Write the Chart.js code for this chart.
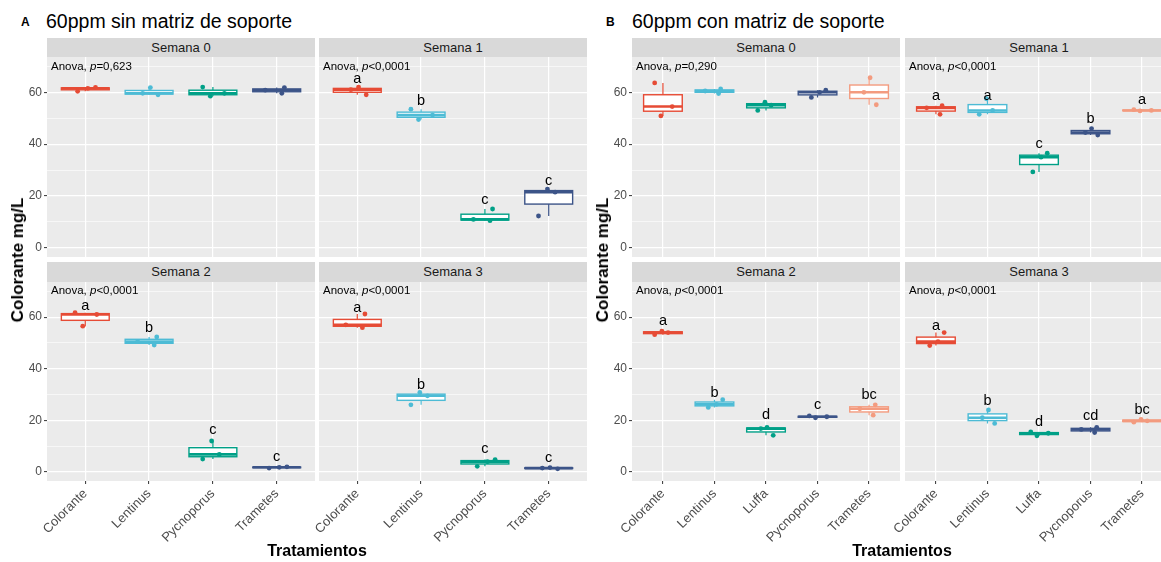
<!DOCTYPE html>
<html>
<head>
<meta charset="utf-8">
<script src="https://cdn.jsdelivr.net/npm/chart.js@4"></script>
<style>
  body { margin: 0; width: 1161px; height: 562px; overflow: hidden; position: relative; background: #fff;
         font-family: "Liberation Sans", Arial, Helvetica, sans-serif; }
  canvas { position: absolute; }
  .strip { position: absolute; background: #D9D9D9; color: #1A1A1A; font-size: 13px; text-align: center; }
  .tag { position: absolute; font-weight: bold; font-size: 12px; transform: translateY(-50%); }
  .title { position: absolute; font-size: 19.5px; color: #000; transform: translateY(-50%); white-space: nowrap; }
  .axtitle { position: absolute; font-weight: bold; font-size: 16px; white-space: nowrap; }
</style>
</head>
<body>
<script>
// Treatments and weeks
const semanas = ['Semana 0', 'Semana 1', 'Semana 2', 'Semana 3'];
const tratamientosA = ['Colorante', 'Lentinus', 'Pycnoporus', 'Trametes'];
const tratamientosB = ['Colorante', 'Lentinus', 'Luffa', 'Pycnoporus', 'Trametes'];

// Colorant concentration (mg/L), three replicates per treatment
const sinMatrizS0 = [[60.4, 61.5, 61.9], [59.0, 59.6, 61.8], [58.5, 59.6, 62.0], [59.6, 60.8, 61.8]];
const sinMatrizS1 = [[59.0, 61.0, 62.0], [49.5, 51.2, 53.5], [10.5, 11.0, 15.0], [12.3, 21.5, 22.7]];
const sinMatrizS2 = [[56.5, 61.0, 61.7], [49.2, 50.5, 52.3], [5.0, 6.8, 12.0], [1.5, 1.8, 2.0]];
const sinMatrizS3 = [[55.9, 57.0, 61.2], [26.0, 29.5, 30.8], [2.2, 4.0, 4.8], [1.2, 1.5, 1.7]];

const conMatrizS0 = [[50.9, 54.5, 63.6], [59.5, 60.5, 61.3], [53.0, 55.0, 56.2], [58.0, 60.0, 60.8], [55.2, 60.0, 65.6]];
const conMatrizS1 = [[51.5, 54.0, 54.8], [51.5, 53.0, 57.5], [29.3, 35.0, 36.5], [43.5, 44.5, 46.0], [52.8, 53.0, 53.3]];
const conMatrizS2 = [[53.2, 54.0, 54.6], [25.0, 26.2, 28.0], [14.2, 16.8, 17.3], [21.0, 21.4, 21.7], [22.0, 24.5, 26.0]];
const conMatrizS3 = [[49.0, 50.5, 54.0], [18.8, 21.0, 24.0], [14.0, 15.0, 15.5], [15.3, 16.5, 17.3], [19.3, 19.8, 20.4]];

// ANOVA p-values per week
const anovaA = ['=0,623', '<0,0001', '<0,0001', '<0,0001'];
const anovaB = ['=0,290', '<0,0001', '<0,0001', '<0,0001'];

// Tukey letters and the height (mg/L) they sit at
const letrasA = [[], ['a', 'b', 'c', 'c'], ['a', 'b', 'c', 'c'], ['a', 'b', 'c', 'c']];
const letrasAY = [[], [65, 56.8, 18.6, 25.7], [64.3, 55.7, 16.1, 5.8], [63.4, 33.8, 8.8, 5.6]];
const letrasB = [[], ['a', 'a', 'c', 'b', 'a'], ['a', 'b', 'd', 'c', 'bc'], ['a', 'b', 'd', 'cd', 'bc']];
const letrasBY = [[], [58.4, 58.4, 40.2, 49.8, 57.1], [58.3, 30.6, 21.9, 25.8, 29.7], [56.7, 27.4, 19.3, 21.5, 24.1]];

// npg palette
const paleta = ['#E64B35', '#4DBBD5', '#00A087', '#3C5488', '#F39B7F'];
const FONT = '"Liberation Sans", Arial, Helvetica, sans-serif';
const JITTER = [[-0.12, 0.04, 0.16], [0.14, -0.1, 0.02], [-0.04, 0.18, -0.16], [0.08, -0.18, 0.12], [-0.16, 0.1, -0.02]];

const PLOT_W = 268, Y_AXIS_W = 47, X_AXIS_H = 82;
const rows = [{ top: 57, h: 200, strip: 38 }, { top: 282, h: 199, strip: 262 }];

Chart.defaults.font.family = FONT;

// quantile, type 7 (R default)
function quantile(sorted, p) {
  const h = (sorted.length - 1) * p, lo = Math.floor(h), hi = Math.ceil(h);
  return sorted[lo] + (h - lo) * (sorted[hi] - sorted[lo]);
}

// keep Chart.js from reserving room for half tick labels
function noPadding(a) {
  a.paddingTop = 0; a.paddingBottom = 0; a.paddingLeft = 0; a.paddingRight = 0;
}

const fondoPanel = {
  id: 'fondoPanel',
  beforeDraw(chart) {
    const { ctx, chartArea: a } = chart;
    ctx.save();
    ctx.fillStyle = '#EBEBEB';
    ctx.fillRect(a.left, a.top, a.width, a.height);
    ctx.restore();
  }
};

// box + whiskers for each treatment
const cajas = {
  id: 'cajas',
  beforeDatasetsDraw(chart, args, opts) {
    const { ctx, scales: { x, y } } = chart;
    ctx.save();
    opts.values.forEach((vals, i) => {
      const s = vals.slice().sort((a, b) => a - b);
      const q1 = quantile(s, 0.25), med = quantile(s, 0.5), q3 = quantile(s, 0.75);
      const iqr = q3 - q1;
      const lo = Math.min(...s.filter(v => v >= q1 - 1.5 * iqr));
      const hi = Math.max(...s.filter(v => v <= q3 + 1.5 * iqr));
      const cx = x.getPixelForValue(i + 1);
      const x0 = x.getPixelForValue(i + 1 - 0.375), x1 = x.getPixelForValue(i + 1 + 0.375);
      ctx.strokeStyle = paleta[i];
      ctx.lineWidth = 1.2;
      ctx.beginPath();
      ctx.moveTo(cx, y.getPixelForValue(q3)); ctx.lineTo(cx, y.getPixelForValue(hi));
      ctx.moveTo(cx, y.getPixelForValue(q1)); ctx.lineTo(cx, y.getPixelForValue(lo));
      ctx.stroke();
      const yt = y.getPixelForValue(q3), yb = y.getPixelForValue(q1);
      ctx.fillStyle = '#fff';
      ctx.fillRect(x0, yt, x1 - x0, yb - yt);
      ctx.lineWidth = 1.4;
      ctx.strokeRect(x0, yt, x1 - x0, yb - yt);
      ctx.lineWidth = 2.6;
      ctx.beginPath();
      ctx.moveTo(x0, y.getPixelForValue(med)); ctx.lineTo(x1, y.getPixelForValue(med));
      ctx.stroke();
    });
    ctx.restore();
  }
};

// ANOVA label and group letters
const etiquetas = {
  id: 'etiquetas',
  afterDatasetsDraw(chart, args, opts) {
    const { ctx, scales: { x, y } } = chart;
    ctx.save();
    ctx.textBaseline = 'middle';
    ctx.fillStyle = '#000';
    let px = x.getPixelForValue(x.min) + 4;
    const py = y.getPixelForValue(70);
    ctx.textAlign = 'left';
    ctx.font = '11.5px ' + FONT;
    ctx.fillText('Anova, ', px, py);
    px += ctx.measureText('Anova, ').width;
    ctx.font = 'italic 11.5px ' + FONT;
    ctx.fillText('p', px, py);
    px += ctx.measureText('p').width;
    ctx.font = '11.5px ' + FONT;
    ctx.fillText(opts.anova, px, py);

    ctx.textAlign = 'center';
    ctx.font = '14.5px ' + FONT;
    opts.letters.forEach((l, i) => {
      ctx.fillText(l, x.getPixelForValue(i + 1), y.getPixelForValue(opts.lettersY[i]));
    });
    ctx.restore();
  }
};

function facet({ left, row, cats, values, letters, lettersY, anova, showX, showY, label, idx }) {
  const r = rows[row];
  const cv = document.createElement('canvas');
  cv.width = Y_AXIS_W + PLOT_W;
  cv.height = r.h + (showX ? X_AXIS_H : 0);
  cv.style.left = (left - Y_AXIS_W) + 'px';
  cv.style.top = r.top + 'px';
  document.body.appendChild(cv);

  const strip = document.createElement('div');
  strip.className = 'strip';
  strip.textContent = label;
  Object.assign(strip.style, {
    left: left + 'px', top: r.strip + 'px', width: PLOT_W + 'px',
    height: (r.top - r.strip) + 'px', lineHeight: (r.top - r.strip) + 'px'
  });
  document.body.appendChild(strip);

  const pts = [], cols = [];
  values.forEach((vals, i) => {
    const jit = JITTER[(i + idx) % JITTER.length];
    vals.forEach((v, k) => { pts.push({ x: i + 1 + jit[k], y: v }); cols.push(paleta[i]); });
  });

  new Chart(cv, {
    type: 'scatter',
    data: { datasets: [{ data: pts, pointBackgroundColor: cols, pointBorderWidth: 0, pointRadius: 2.4 }] },
    options: {
      responsive: false,
      animation: false,
      layout: { padding: 0, autoPadding: false },
      plugins: {
        legend: { display: false },
        tooltip: { enabled: false },
        cajas: { values },
        etiquetas: { anova, letters, lettersY }
      },
      scales: {
        x: {
          type: 'linear', min: 0.4, max: cats.length + 0.6,
          afterBuildTicks: a => { a.ticks = cats.map((c, i) => ({ value: i + 1 })); },
          afterFit: a => { a.height = showX ? X_AXIS_H : 0; noPadding(a); },
          border: { display: false },
          grid: { color: '#fff', lineWidth: 1.2, drawTicks: showX, tickLength: 3, tickColor: '#333', tickWidth: 1 },
          ticks: {
            display: showX, autoSkip: false, minRotation: 45, maxRotation: 45, padding: 2,
            color: '#4D4D4D', font: { size: 13 }, callback: v => cats[v - 1]
          }
        },
        y: {
          min: -3.5, max: 73.6,
          afterBuildTicks: a => { a.ticks = [0, 10, 20, 30, 40, 50, 60, 70].map(v => ({ value: v })); },
          afterFit: a => { a.width = Y_AXIS_W; noPadding(a); },
          border: { display: false },
          grid: {
            color: '#fff',
            lineWidth: c => (c.tick && c.tick.value % 20 === 0) ? 1.2 : 0.6,
            drawTicks: showY, tickLength: 3,
            tickColor: c => (c.tick && c.tick.value % 20 === 0) ? '#333' : 'rgba(0,0,0,0)',
            tickWidth: 1
          },
          ticks: {
            display: showY, autoSkip: false, padding: 2, color: '#4D4D4D', font: { size: 12 },
            callback: v => (v % 20 === 0 ? v : '')
          }
        }
      }
    },
    plugins: [fondoPanel, cajas, etiquetas]
  });
}

function addText(cls, text, style) {
  const d = document.createElement('div');
  d.className = cls;
  d.textContent = text;
  Object.assign(d.style, style);
  document.body.appendChild(d);
}

const sinMatriz = [sinMatrizS0, sinMatrizS1, sinMatrizS2, sinMatrizS3];
const conMatriz = [conMatrizS0, conMatrizS1, conMatrizS2, conMatrizS3];
const colsA = [47, 319], colsB = [632, 905];

semanas.forEach((s, k) => {
  const row = Math.floor(k / 2), col = k % 2;
  facet({ left: colsA[col], row, cats: tratamientosA, values: sinMatriz[k], letters: letrasA[k],
          lettersY: letrasAY[k], anova: anovaA[k], showX: row === 1, showY: col === 0, label: s, idx: k });
  facet({ left: colsB[col], row, cats: tratamientosB, values: conMatriz[k], letters: letrasB[k],
          lettersY: letrasBY[k], anova: anovaB[k], showX: row === 1, showY: col === 0, label: s, idx: k + 2 });
});

// panel titles and axis titles
addText('tag', 'A', { left: '21px', top: '22px' });
addText('title', '60ppm sin matriz de soporte', { left: '46px', top: '21px' });
addText('tag', 'B', { left: '606px', top: '22px' });
addText('title', '60ppm con matriz de soporte', { left: '632px', top: '21px' });

addText('axtitle', 'Colorante mg/L', { left: '18px', top: '260px', fontSize: '17px', transform: 'translate(-50%, -50%) rotate(-90deg)' });
addText('axtitle', 'Colorante mg/L', { left: '603px', top: '260px', fontSize: '17px', transform: 'translate(-50%, -50%) rotate(-90deg)' });
addText('axtitle', 'Tratamientos', { left: '317px', top: '551px', transform: 'translate(-50%, -50%)' });
addText('axtitle', 'Tratamientos', { left: '902px', top: '551px', transform: 'translate(-50%, -50%)' });
</script>
</body>
</html>
